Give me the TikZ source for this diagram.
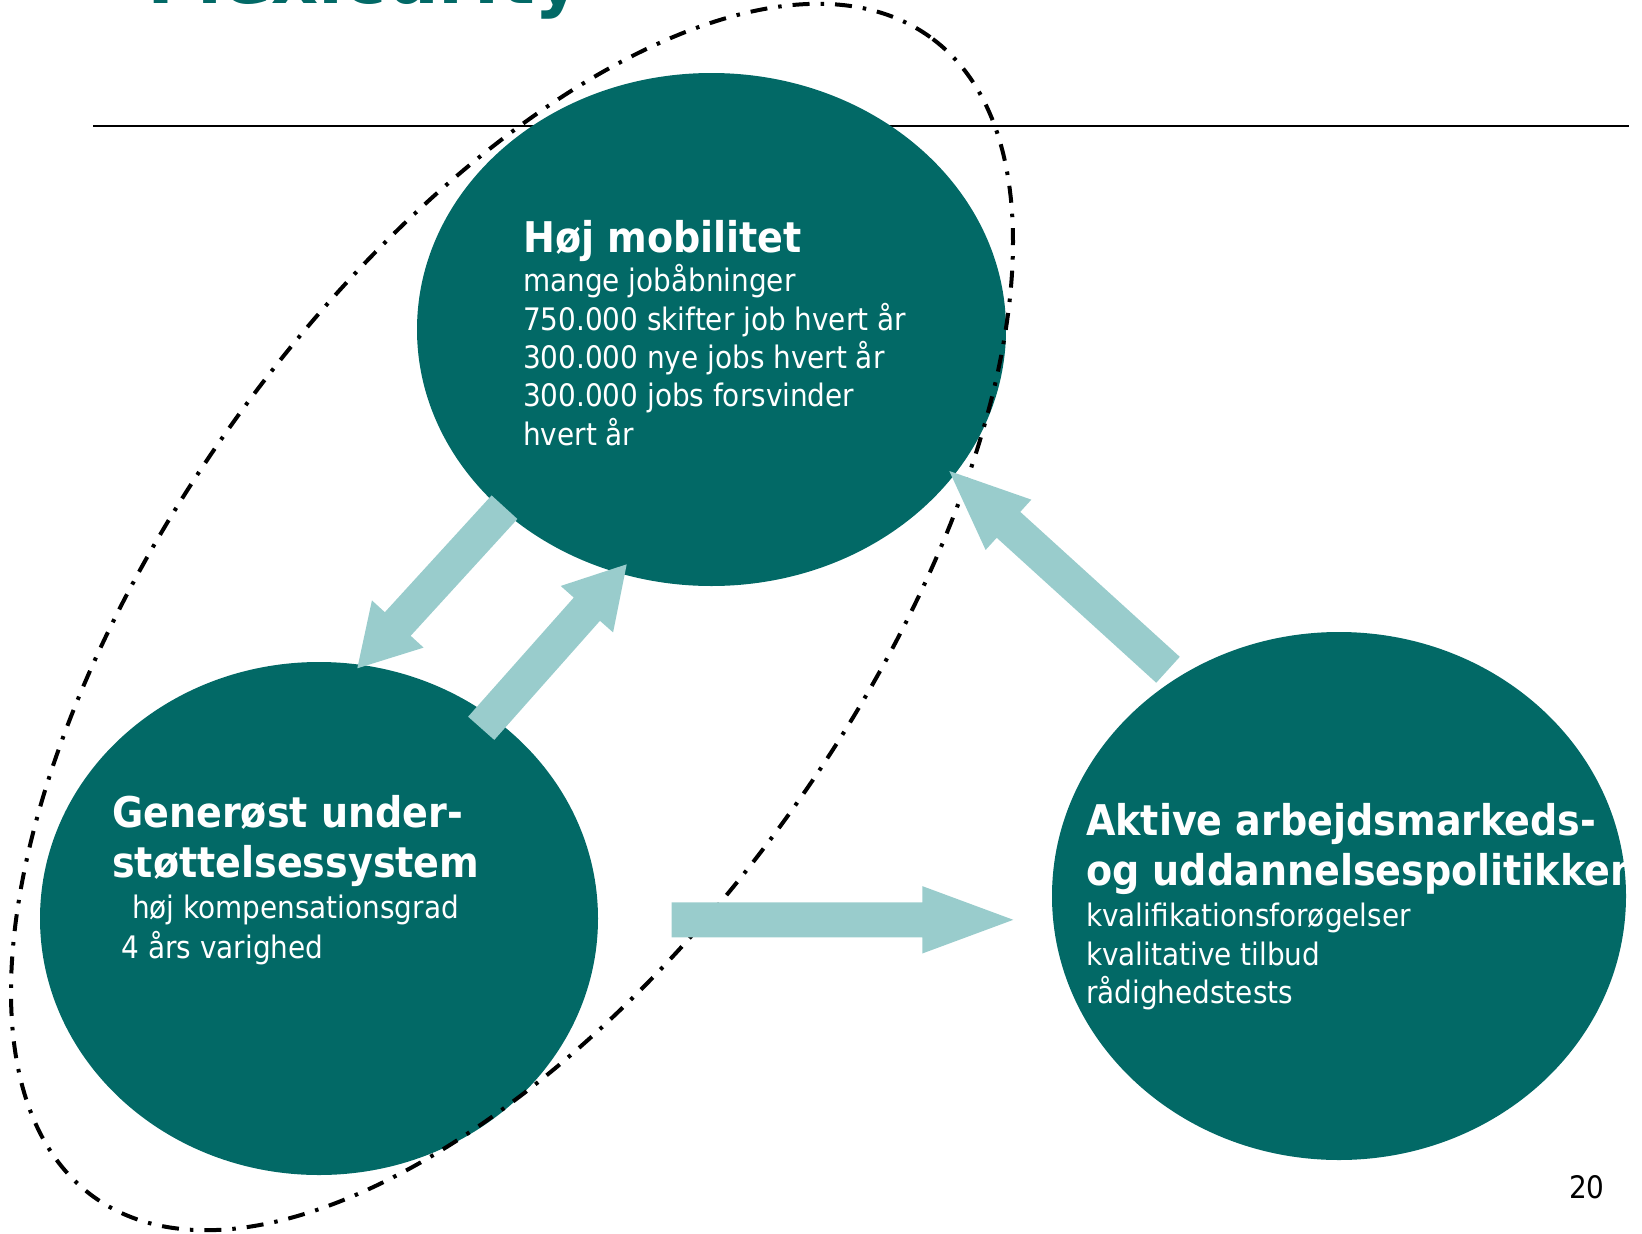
\documentclass[tikz,border=0pt]{standalone}
\usepackage{fontspec}
\setmainfont{DejaVu Sans Condensed}
\newfontfamily\titlefont{DejaVu Sans}
\usetikzlibrary{shapes.geometric,calc}
\definecolor{darkteal}{RGB}{2,105,102}
\definecolor{lightteal}{RGB}{153,204,204}
\newcommand\blockarrow[5]{%
  \coordinate (#4h) at ($(#2)!#3!(#1)$);
  \fill[arrowfill] ($(#1)!17.5pt!90:(#2)$) -- ($(#4h)!17.5pt!90:(#2)$) -- ($(#4h)!#5!90:(#2)$) -- (#2)
    -- ($(#4h)!#5!-90:(#2)$) -- ($(#4h)!17.5pt!-90:(#2)$) -- ($(#1)!17.5pt!-90:(#2)$) -- cycle;
}
\begin{document}
\begin{tikzpicture}[x=1pt,y=-1pt,
  blob/.style={ellipse, fill=darkteal, inner sep=0pt, outer sep=0pt},
  arrowfill/.style={fill=lightteal},
  headtxt/.style={anchor=base west, inner sep=0pt, text=white, font=\bfseries\fontsize{42.3}{50}\selectfont},
  bodytxt/.style={anchor=base west, inner sep=0pt, text=white, font=\fontsize{31}{38}\selectfont},
  loopline/.style={ellipse, draw=black, line width=4pt, dash pattern=on 17pt off 11pt on 3.5pt off 11pt, inner sep=0pt, outer sep=0pt}]
\useasboundingbox (0,0) rectangle (1642,1234);
\begin{scope}
  \clip (0,0) rectangle (1642,1234);
  \node[anchor=base west, inner sep=0pt, text=darkteal, font=\titlefont\bfseries\fontsize{73}{80}\selectfont] (title) at (147,4) {Flexicurity};
\end{scope}
% rule
\coordinate (ls) at (93,126);
\coordinate (le) at (1629,126);
\draw[line width=2pt] (ls) -- (le);
% ellipses
\node[blob, minimum width=589pt, minimum height=513pt] (top) at (711.5,329.5) {};
\node[blob, minimum width=558pt, minimum height=513pt] (left) at (319,918.5) {};
\node[blob, minimum width=574pt, minimum height=528pt] (right) at (1339,896) {};
% dash-dot grouping ellipse
\node[loopline, minimum width=1430pt, minimum height=680pt, rotate=54.2] (group) at (512,617) {};
% arrows
\coordinate (a1t) at (504.5,507.2); \coordinate (a1h) at (357.3,668.3);
\coordinate (a2t) at (481.2,728.3); \coordinate (a2h) at (626.7,564.3);
\coordinate (a3t) at (1168,669.8);  \coordinate (a3h) at (949.3,471);
\coordinate (a4t) at (671.7,919.8); \coordinate (a4h) at (1013.3,919.8);
\blockarrow{a1t}{a1h}{60pt}{b1}{35pt}
\blockarrow{a2t}{a2h}{60pt}{b2}{35pt}
\blockarrow{a3t}{a3h}{80pt}{b3}{34pt}
\blockarrow{a4t}{a4h}{91pt}{b4}{33.7pt}
% texts top
\node[headtxt] (t1) at (523,252.7) {Høj mobilitet};
\node[bodytxt] (t2) at (523,291.7) {mange jobåbninger};
\node[bodytxt] (t3) at (523,330) {750.000 skifter job hvert år};
\node[bodytxt] (t4) at (523,368.3) {300.000 nye jobs hvert år};
\node[bodytxt] (t5) at (523,406.5) {300.000 jobs forsvinder};
\node[bodytxt] (t6) at (523,445) {hvert år};
% texts left
\node[headtxt] (l1) at (112,827) {Generøst under-};
\node[headtxt] (l2) at (112,877) {støttelsessystem};
\node[bodytxt] (l3) at (132,918.5) {høj kompensationsgrad};
\node[bodytxt] (l4) at (121.5,958.3) {4 års varighed};
% texts right
\node[headtxt] (r1) at (1086,835) {Aktive arbejdsmarkeds-};
\node[headtxt] (r2) at (1086,885) {og uddannelsespolitikken};
\node[bodytxt] (r3) at (1086,926.7) {kvalifikationsforøgelser};
\node[bodytxt] (r4) at (1086,965) {kvalitative tilbud};
\node[bodytxt] (r5) at (1086,1003.3) {rådighedstests};
% page number
\node[bodytxt, text=black] (pg) at (1569,1198.5) {20};
\end{tikzpicture}
\end{document}
